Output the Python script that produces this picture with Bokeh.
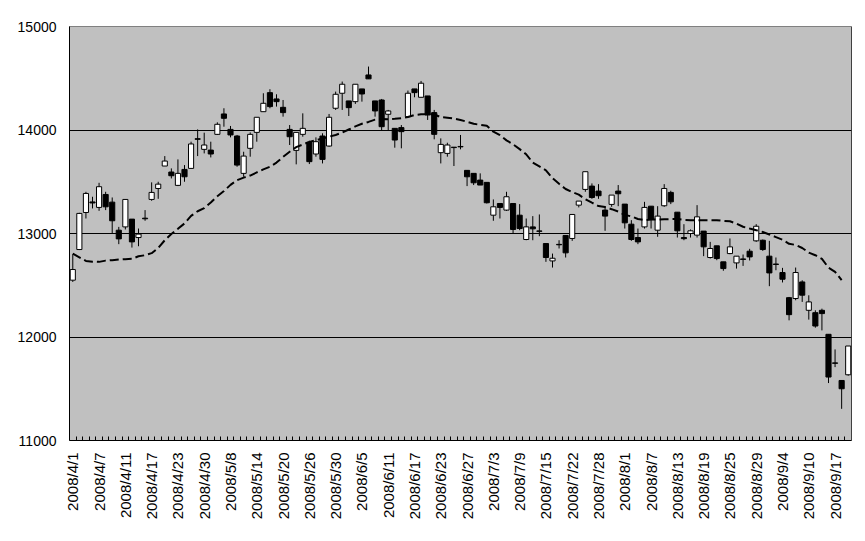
import numpy as np
from bokeh.plotting import figure
from bokeh.models import Range1d, FixedTicker, Span, ColumnDataSource
from bokeh.embed import file_html
from bokeh.resources import INLINE

# Trading days (Nikkei 225, 2008/4/1 - 2008/9/19)
dates = [
    "2008/4/1", "2008/4/2", "2008/4/3", "2008/4/4", "2008/4/7", "2008/4/8", "2008/4/9", "2008/4/10",
    "2008/4/11", "2008/4/14", "2008/4/15", "2008/4/16", "2008/4/17", "2008/4/18", "2008/4/21", "2008/4/22",
    "2008/4/23", "2008/4/24", "2008/4/25", "2008/4/28", "2008/4/30", "2008/5/1", "2008/5/2", "2008/5/7",
    "2008/5/8", "2008/5/9", "2008/5/12", "2008/5/13", "2008/5/14", "2008/5/15", "2008/5/16", "2008/5/19",
    "2008/5/20", "2008/5/21", "2008/5/22", "2008/5/23", "2008/5/26", "2008/5/27", "2008/5/28", "2008/5/29",
    "2008/5/30", "2008/6/2", "2008/6/3", "2008/6/4", "2008/6/5", "2008/6/6", "2008/6/9", "2008/6/10",
    "2008/6/11", "2008/6/12", "2008/6/13", "2008/6/16", "2008/6/17", "2008/6/18", "2008/6/19", "2008/6/20",
    "2008/6/23", "2008/6/24", "2008/6/25", "2008/6/26", "2008/6/27", "2008/6/30", "2008/7/1", "2008/7/2",
    "2008/7/3", "2008/7/4", "2008/7/7", "2008/7/8", "2008/7/9", "2008/7/10", "2008/7/11", "2008/7/14",
    "2008/7/15", "2008/7/16", "2008/7/17", "2008/7/18", "2008/7/22", "2008/7/23", "2008/7/24", "2008/7/25",
    "2008/7/28", "2008/7/29", "2008/7/30", "2008/7/31", "2008/8/1", "2008/8/4", "2008/8/5", "2008/8/6",
    "2008/8/7", "2008/8/8", "2008/8/11", "2008/8/12", "2008/8/13", "2008/8/14", "2008/8/15", "2008/8/18",
    "2008/8/19", "2008/8/20", "2008/8/21", "2008/8/22", "2008/8/25", "2008/8/26", "2008/8/27", "2008/8/28",
    "2008/8/29", "2008/9/1", "2008/9/2", "2008/9/3", "2008/9/4", "2008/9/5", "2008/9/8", "2008/9/9",
    "2008/9/10", "2008/9/11", "2008/9/12", "2008/9/16", "2008/9/17", "2008/9/18", "2008/9/19",
]

opens = [
    12549, 12845, 13203, 13305, 13252, 13377, 13303, 13032, 13064, 13139, 12961, 13148, 13329, 13435, 13652, 13594,
    13465, 13619, 13629, 13916, 13813, 13806, 13958, 14155, 14006, 13942, 13581, 13823, 13977, 14177, 14361, 14300,
    14219, 14006, 13803, 13958, 13881, 13768, 13942, 13845, 14210, 14355, 14281, 14274, 14397, 14532, 14281, 14290,
    14152, 14016, 14023, 14129, 14397, 14316, 14329, 14168, 13781, 13774, 13834, 13841, 13610, 13581, 13516, 13494,
    13177, 13290, 13226, 13290, 13177, 12942, 13064, 13025, 12903, 12735, 12895, 12981, 12952, 13274, 13426, 13458,
    13410, 13226, 13281, 13410, 13284, 13090, 12961, 13064, 13264, 13032, 13268, 13397, 13206, 12961, 13000, 12984,
    13023, 12768, 12881, 12726, 12806, 12716, 12754, 12829, 12929, 12935, 12781, 12705, 12623, 12380, 12372, 12532,
    12258, 12235, 12258, 12026, 11750, 11580, 11635,
]
highs = [
    12800, 13200, 13403, 13355, 13490, 13403, 13348, 13064, 13329, 13139, 13048, 13226, 13494, 13500, 13748, 13629,
    13716, 13661, 13887, 14006, 13974, 13887, 14074, 14210, 14039, 13952, 13790, 13977, 14123, 14355, 14394, 14345,
    14290, 14048, 13977, 14161, 13897, 13929, 13968, 14155, 14371, 14468, 14281, 14442, 14397, 14613, 14281, 14300,
    14194, 14016, 14048, 14381, 14397, 14474, 14329, 14194, 13919, 13877, 13834, 13952, 13610, 13581, 13581, 13494,
    13329, 13290, 13403, 13290, 13284, 13145, 13168, 13184, 12903, 12806, 12935, 12981, 13184, 13313, 13597, 13484,
    13477, 13264, 13371, 13468, 13284, 13129, 13048, 13306, 13264, 13264, 13477, 13413, 13206, 13090, 13039, 13274,
    13023, 12919, 12881, 12726, 12952, 12781, 12797, 12852, 13090, 12942, 12929, 12768, 12668, 12387, 12671, 12548,
    12403, 12258, 12274, 12026, 11880, 11580, 11913,
]
lows = [
    12532, 12840, 13145, 13242, 13219, 13226, 13000, 12897, 13039, 12864, 12877, 13123, 13316, 13335, 13652, 13532,
    13458, 13500, 13629, 13748, 13774, 13735, 13952, 14032, 13929, 13645, 13548, 13742, 13887, 14177, 14210, 14226,
    14129, 13855, 13668, 13935, 13671, 13742, 13677, 13839, 14194, 14194, 14135, 14252, 14274, 14494, 14129, 14000,
    14000, 13829, 13823, 14123, 14316, 14316, 14097, 13910, 13677, 13742, 13652, 13813, 13458, 13468, 13468, 13290,
    13123, 13145, 13219, 13000, 13032, 12935, 12935, 12974, 12726, 12671, 12855, 12768, 12929, 13252, 13403, 13335,
    13335, 13026, 13258, 13264, 13048, 12929, 12897, 13048, 13048, 12968, 13258, 13284, 12961, 12935, 12961, 12961,
    12781, 12758, 12742, 12640, 12800, 12661, 12687, 12739, 12919, 12832, 12491, 12645, 12527, 12161, 12355, 12339,
    12168, 12090, 12064, 11555, 11709, 11306, 11626,
]
closes = [
    12652, 13194, 13387, 13295, 13452, 13258, 13123, 12948, 13329, 12919, 12994, 13142, 13397, 13477, 13700, 13558,
    13581, 13548, 13865, 13910, 13855, 13768, 14055, 14113, 13952, 13661, 13748, 13958, 14123, 14258, 14226, 14274,
    14168, 13935, 13977, 14016, 13694, 13887, 13716, 14123, 14345, 14442, 14216, 14442, 14348, 14494, 14184, 14032,
    14184, 13903, 13984, 14355, 14361, 14452, 14145, 13958, 13861, 13855, 13830, 13837, 13548, 13490, 13468, 13297,
    13258, 13252, 13355, 13039, 13048, 13064, 13045, 13021, 12768, 12761, 12891, 12813, 13184, 13313, 13597, 13348,
    13365, 13168, 13371, 13384, 13103, 12942, 12919, 13252, 13135, 13168, 13435, 13306, 13026, 12950, 13026, 13161,
    12871, 12855, 12758, 12661, 12871, 12781, 12750, 12774, 13070, 12845, 12619, 12701, 12558, 12216, 12623, 12404,
    12339, 12106, 12226, 11613, 11746, 11500, 11913,
]
# 25-day moving average
ma25 = [
    12805, 12770, 12735, 12728, 12726, 12738, 12742, 12748, 12752, 12755, 12780, 12790, 12810, 12860, 12935, 12995,
    13045, 13097, 13170, 13215, 13245, 13300, 13360, 13410, 13470, 13515, 13540, 13560, 13590, 13620, 13645, 13685,
    13740, 13790, 13835, 13860, 13885, 13900, 13918, 13935, 13952, 13975, 14005, 14035, 14060, 14078, 14100, 14106,
    14104, 14108, 14113, 14125, 14145, 14152, 14152, 14150, 14125, 14119, 14110, 14097, 14080, 14060, 14050, 14040,
    13984, 13950, 13900, 13862, 13815, 13765, 13685, 13648, 13610, 13535, 13480, 13430, 13400, 13375, 13332, 13298,
    13265, 13255, 13235, 13212, 13180, 13165, 13140, 13130, 13135, 13135, 13137, 13139, 13139, 13132, 13129, 13129,
    13129, 13129, 13128, 13122, 13118, 13095, 13065, 13048, 13032, 13015, 12990, 12965, 12940, 12900, 12890, 12860,
    12815, 12790, 12755, 12670, 12630, 12550,
]
y_ticks = [11000, 12000, 13000, 14000, 15000]

n = len(dates)
xs = list(range(n))
src = ColumnDataSource(dict(
    x=xs,
    high=highs,
    low=lows,
    top=[max(o, c) for o, c in zip(opens, closes)],
    bottom=[min(o, c) for o, c in zip(opens, closes)],
    fill=["white" if c > o else "black" for o, c in zip(opens, closes)],
))

FONT = "Liberation Sans"

p = figure(width=857, height=533,
           x_range=Range1d(-0.5, n - 0.5), y_range=Range1d(y_ticks[0], y_ticks[-1]),
           output_backend="svg", toolbar_location=None,
           min_border_left=69, min_border_right=6, min_border_top=26, min_border_bottom=93)

p.background_fill_color = "#C0C0C0"
p.border_fill_color = "white"
p.outline_line_color = "#808080"
p.outline_line_width = 1

p.xgrid.visible = False
p.ygrid.ticker = FixedTicker(ticks=y_ticks[1:-1])
p.ygrid.grid_line_color = "black"
p.ygrid.grid_line_width = 1

# y axis
p.yaxis.ticker = FixedTicker(ticks=y_ticks)
p.yaxis.major_tick_in = 0
p.yaxis.major_tick_out = 0
p.yaxis.minor_tick_line_color = None
p.yaxis.axis_line_color = "black"
p.yaxis.major_label_standoff = 13
p.yaxis.major_label_text_font = FONT
p.yaxis.major_label_text_font_size = "14px"
p.yaxis.major_label_text_color = "black"

# x axis
label_idx = list(range(0, n, 4))
p.xaxis.ticker = FixedTicker(ticks=label_idx, minor_ticks=[k + 0.5 for k in range(n - 1)])
p.xaxis.major_label_overrides = {i: dates[i] for i in label_idx}
p.xaxis.major_label_orientation = np.pi / 2
p.xaxis.major_tick_in = 0
p.xaxis.major_tick_out = 0
p.xaxis.minor_tick_in = 4
p.xaxis.minor_tick_out = 0
p.xaxis.minor_tick_line_color = "black"
p.xaxis.axis_line_color = "black"
p.xaxis.major_label_standoff = 12
p.xaxis.major_label_text_font = FONT
p.xaxis.major_label_text_font_size = "15px"
p.xaxis.major_label_text_color = "black"

# right border
p.add_layout(Span(location=n - 0.5, dimension="height", line_color="black", line_width=1))

# candles
p.segment(x0="x", y0="high", x1="x", y1="low", source=src, line_color="black", line_width=1)
p.vbar(x="x", width=0.78, top="top", bottom="bottom", source=src,
       fill_color="fill", line_color="black", line_width=1)

# moving average
p.line(xs[:len(ma25)], ma25, line_color="black", line_width=2, line_dash="9 4")

open("out.html", "w").write(file_html(p, INLINE))
